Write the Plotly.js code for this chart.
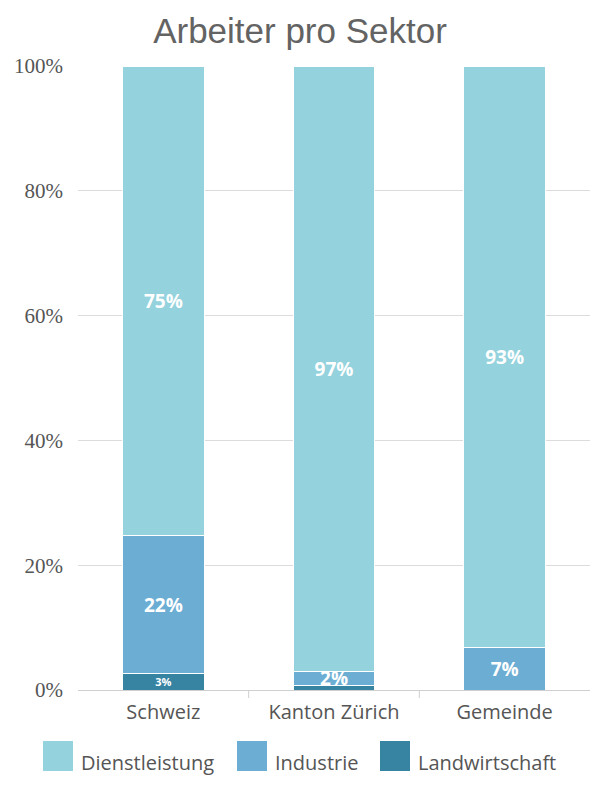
<!DOCTYPE html>
<html><head><meta charset="utf-8">
<script src="https://cdn.plot.ly/plotly-3.0.1.min.js"></script>
<style>body{margin:0;background:#fff}#c{width:600px;height:800px}</style>
</head><body><div id="c"></div>
<script>
const categories = ["Schweiz", "Kanton Zürich", "Gemeinde"];
const landwirtschaft = [2.7, 0.8, 0];
const industrie = [22.0, 2.2, 6.8];
const dienstleistung = [75.3, 97.0, 93.2];
const landLabels = ["3%", "", ""];
const indLabels = ["22%", "2%", "7%"];
const dienstLabels = ["75%", "97%", "93%"];
const yTicks = [0, 20, 40, 60, 80, 100];
const yTickLabels = ["0%", "20%", "40%", "60%", "80%", "100%"];
const seriesNames = ["Dienstleistung", "Industrie", "Landwirtschaft"];
const seriesColors = ["#94d2dd", "#6badd3", "#3783a2"];

const M = {l: 78, r: 10, t: 66, b: 110};
const W = 600, H = 800;
const pw = W - M.l - M.r, ph = H - M.t - M.b;
const px = v => (v - M.l) / pw;          // pixel x -> paper
const py = v => (H - M.b - v) / ph;      // pixel y -> paper

const lab = (size) => ({family: "Open Sans", size: size, color: "#fff", weight: 700});
const traces = [
  {type: "bar", name: seriesNames[2], x: categories, y: landwirtschaft, text: landLabels,
    marker: {color: seriesColors[2], line: {color: "#fff", width: 1}}, insidetextfont: lab(11)},
  {type: "bar", name: seriesNames[1], x: categories, y: industrie, text: indLabels,
    marker: {color: seriesColors[1], line: {color: "#fff", width: 1}}, insidetextfont: lab(19)},
  {type: "bar", name: seriesNames[0], x: categories, y: dienstleistung, text: dienstLabels,
    marker: {color: seriesColors[0], line: {color: "#fff", width: 1}}, insidetextfont: lab(19)}
].map(t => Object.assign(t, {textposition: "inside", insidetextanchor: "middle",
  constraintext: "none", hoverinfo: "none", showlegend: false}));

// manual legend (large square swatches)
const legendX = [43, 237, 380];
const shapes = [0.5, 1.5].map(v => ({type: "line", xref: "x", yref: "paper",
  x0: v, x1: v, y0: 0, y1: py(H - M.b + 8), line: {color: "#cfcfcf", width: 1}}));
const annotations = [];
seriesNames.forEach((n, i) => {
  shapes.push({type: "rect", xref: "paper", yref: "paper",
    x0: px(legendX[i]), x1: px(legendX[i] + 30), y0: py(741), y1: py(771),
    fillcolor: seriesColors[i], line: {width: 0}});
  annotations.push({xref: "paper", yref: "paper", x: px(legendX[i] + 36), y: py(762),
    xanchor: "left", yanchor: "middle", showarrow: false, text: n,
    font: {family: "Open Sans", size: 20, color: "#555"}});
});

const layout = {
  width: W, height: H, barmode: "stack", bargap: 0.52,
  paper_bgcolor: "#fff", plot_bgcolor: "#fff", margin: M, showlegend: false,
  title: {text: "Arbeiter pro Sektor", x: 0.5, xanchor: "center", y: 0.962, yanchor: "middle",
    font: {family: "Liberation Sans, Arial", size: 35, color: "#636363"}},
  xaxis: {showline: true, linecolor: "#cfcfcf", linewidth: 1, ticks: "", ticklabelstandoff: 4,
    tickfont: {family: "Open Sans", size: 20, color: "#555"}, showgrid: false},
  yaxis: {range: [0, 100], tickvals: yTicks, ticktext: yTickLabels, showgrid: true,
    gridcolor: "#dcdcdc", zeroline: false, ticklabelstandoff: 14,
    tickfont: {family: "Liberation Serif", size: 21, color: "#555"}},
  shapes: shapes, annotations: annotations
};
Plotly.newPlot("c", traces, layout, {displayModeBar: false});
</script></body></html>
